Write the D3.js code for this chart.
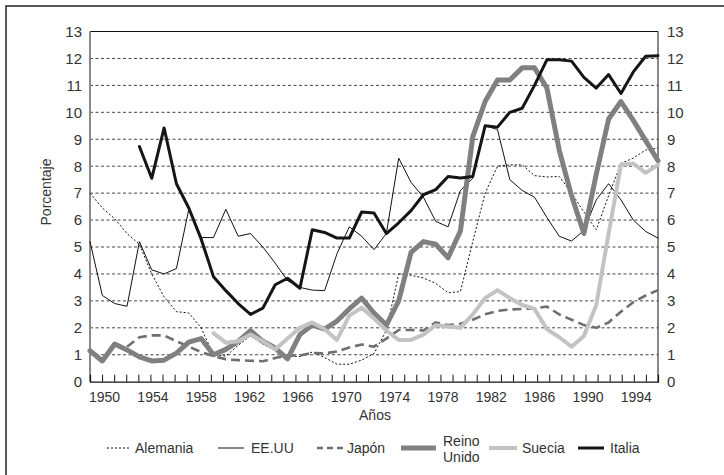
<!DOCTYPE html>
<html><head><meta charset="utf-8">
<script src="https://cdn.jsdelivr.net/npm/d3@7"></script>
<style>
html,body{margin:0;padding:0;background:#fff;}
svg text{font-family:"Liberation Sans",Arial,sans-serif;fill:#333;}
</style></head>
<body>
<svg id="chart" width="724" height="475"></svg>
<script>
// ---------- data ----------
const years = [1950,1951,1952,1953,1954,1955,1956,1957,1958,1959,1960,1961,1962,1963,1964,1965,1966,1967,1968,1969,1970,1971,1972,1973,1974,1975,1976,1977,1978,1979,1980,1981,1982,1983,1984,1985,1986,1987,1988,1989,1990,1991,1992,1993,1994,1995,1996];
const axisYears = [1949,1950,1951,1952,1953,1954,1955,1956,1957,1958,1959,1960,1961,1962,1963,1964,1965,1966,1967,1968,1969,1970,1971,1972,1973,1974,1975,1976,1977,1978,1979,1980,1981,1982,1983,1984,1985,1986,1987,1988,1989,1990,1991,1992,1993,1994,1995,1996];
const xTickLabels = [1950,1954,1958,1962,1966,1970,1974,1978,1982,1986,1990,1994];
const yTicks = [0,1,2,3,4,5,6,7,8,9,10,11,12,13];

const alemania = [7.0,6.45,6.05,5.5,5.1,4.0,3.15,2.6,2.55,2.0,1.0,0.95,1.35,1.7,1.4,1.15,0.95,0.93,1.1,0.9,0.65,0.65,0.8,1.05,1.9,4.0,3.95,3.85,3.65,3.3,3.35,5.2,7.0,8.0,8.05,8.05,7.65,7.6,7.62,7.0,6.3,5.64,6.9,8.1,8.3,8.6,8.67];
const eeuu = [5.2,3.2,2.9,2.8,5.2,4.15,4.0,4.2,6.4,5.35,5.35,6.4,5.4,5.5,5.0,4.4,3.75,3.5,3.4,3.38,4.75,5.75,5.4,4.9,5.5,8.3,7.4,6.85,5.95,5.75,7.1,7.55,9.5,9.36,7.5,7.1,6.85,6.1,5.4,5.22,5.62,6.75,7.35,6.75,6.0,5.58,5.33];
const japon = [null,null,null,1.3,1.65,1.72,1.72,1.5,1.3,1.1,0.95,0.83,0.8,0.78,0.76,0.88,0.98,0.97,1.07,1.05,1.12,1.27,1.38,1.3,1.6,1.92,1.92,1.9,2.2,2.1,2.15,2.3,2.5,2.63,2.68,2.7,2.72,2.79,2.5,2.3,2.1,2.0,2.2,2.6,2.95,3.2,3.4];
const reinoUnido = [1.15,0.77,1.4,1.18,0.92,0.77,0.8,1.06,1.47,1.6,1.0,1.2,1.5,1.9,1.5,1.25,0.85,1.75,2.1,1.95,2.25,2.7,3.1,2.55,2.1,3.0,4.8,5.2,5.1,4.6,5.6,9.1,10.4,11.2,11.2,11.65,11.65,10.9,8.6,6.9,5.5,7.7,9.75,10.4,9.7,8.95,8.2];
const suecia = [null,null,null,null,null,null,null,null,null,null,1.8,1.45,1.5,1.75,1.5,1.2,1.6,2.0,2.2,1.95,1.55,2.45,2.75,2.35,1.9,1.55,1.55,1.75,2.1,2.05,2.0,2.5,3.1,3.4,3.1,2.85,2.7,1.95,1.65,1.3,1.7,2.85,5.5,8.05,8.1,7.75,8.05];
const italia = [null,null,null,null,8.73,7.55,9.42,7.35,6.45,5.3,3.9,3.38,2.9,2.5,2.73,3.6,3.84,3.47,5.64,5.54,5.33,5.33,6.3,6.26,5.5,5.9,6.35,6.94,7.13,7.62,7.56,7.62,9.5,9.45,10.0,10.15,11.0,11.95,11.95,11.9,11.3,10.9,11.4,10.7,11.5,12.08,12.1];

const seriesNames = ["Alemania","EE.UU","Japón","Reino Unido","Suecia","Italia"];
const seriesValues = [alemania, eeuu, japon, reinoUnido, suecia, italia];

// ---------- styles / layout ----------
const styles = [
  {color:"#111", width:1, dash:"2,2"},
  {color:"#111", width:1, dash:null},
  {color:"#6f6f6f", width:2.6, dash:"9,5"},
  {color:"#808080", width:5, dash:null},
  {color:"#c3c3c3", width:4, dash:null},
  {color:"#151515", width:3, dash:null}
];
const legendLayout = [
  {x1:107,x2:131,tx:135},
  {x1:218,x2:244,tx:251},
  {x1:317,x2:343,tx:347},
  {x1:401,x2:436,tx:443},
  {x1:489,x2:517,tx:522},
  {x1:578,x2:604,tx:610}
];
const legendDash = ["2,2", null, "6,4", null, null, null];

const svg = d3.select("#chart");
const L = 90, R = 658, T = 31.5, B = 381.7;

const x = d3.scalePoint().domain(years).range([L, R]);
const xAxisScale = d3.scaleLinear().domain([axisYears[0], axisYears[axisYears.length-1]]).range([L, R]);
const y = d3.scaleLinear().domain([0, 13]).range([B, T]);

// outer frame
svg.append("path").attr("d","M6,480 L6,6 L730,6").attr("fill","none").attr("stroke","#222").attr("stroke-width",1.5);

// gridlines
svg.append("g").selectAll("line").data(yTicks.filter(v => v > 0 && v < 13)).join("line")
  .attr("x1", L).attr("x2", R).attr("y1", d => y(d)).attr("y2", d => y(d))
  .attr("stroke", "#444").attr("stroke-width", 1).attr("stroke-dasharray", "3,2.5");

// top & right borders
svg.append("line").attr("x1",L).attr("x2",R).attr("y1",y(13)).attr("y2",y(13)).attr("stroke","#111").attr("stroke-width",1);
svg.append("line").attr("x1",R).attr("x2",R).attr("y1",y(13)).attr("y2",B).attr("stroke","#111").attr("stroke-width",1);

// left axis labels
const yl = svg.append("g").attr("transform",`translate(${L},0)`)
  .call(d3.axisLeft(y).tickValues(yTicks).tickSize(0).tickPadding(8).tickFormat(d3.format("d")));
yl.select(".domain").remove();
yl.selectAll("text").style("font-size","15px").attr("fill","#333");

// right axis labels
const yr = svg.append("g").attr("transform",`translate(${R},0)`)
  .call(d3.axisRight(y).tickValues(yTicks).tickSize(0).tickPadding(9).tickFormat(d3.format("d")));
yr.select(".domain").remove();
yr.selectAll("text").style("font-size","15px").attr("fill","#333");

// left axis line (grey)
svg.append("line").attr("x1",L).attr("x2",L).attr("y1",y(13)).attr("y2",B).attr("stroke","#8a8a8a").attr("stroke-width",2);

// bottom axis
const xa = svg.append("g").attr("transform",`translate(0,${B})`)
  .call(d3.axisBottom(xAxisScale).tickValues(axisYears).tickSize(-7).tickPadding(10)
    .tickFormat(d => xTickLabels.includes(d) ? String(d) : ""));
xa.select(".domain").attr("stroke","#111").attr("stroke-width",1.2);
xa.selectAll(".tick line").attr("stroke","#111");
xa.selectAll("text").style("font-size","14px").attr("fill","#333").attr("dx","2");

// axis titles
svg.append("text").attr("x",375).attr("y",420).attr("text-anchor","middle").style("font-size","14px").text("Años");
svg.append("text").attr("transform","translate(51,192) rotate(-90)").attr("text-anchor","middle").style("font-size","14px").text("Porcentaje");

// lines
const lineGen = d3.line().defined(d => d.v != null).x(d => x(d.year)).y(d => y(d.v));
seriesValues.forEach((vals, i) => {
  const pts = years.map((yr, j) => ({year: yr, v: vals[j]}));
  const s = styles[i];
  svg.append("path").datum(pts).attr("d", lineGen)
    .attr("fill","none").attr("stroke", s.color).attr("stroke-width", s.width)
    .attr("stroke-dasharray", s.dash).attr("stroke-linejoin","round").attr("stroke-linecap", s.dash ? "butt" : "round");
});

// legend
const lg = svg.append("g");
seriesNames.forEach((name, i) => {
  const s = styles[i], p = legendLayout[i], ly = 448;
  lg.append("line").attr("x1",p.x1).attr("x2",p.x2).attr("y1",ly).attr("y2",ly)
    .attr("stroke", s.color).attr("stroke-width", s.width).attr("stroke-dasharray", legendDash[i]);
  const parts = name === "Reino Unido" ? ["Reino","Unido"] : [name];
  parts.forEach((t, k) => {
    lg.append("text").attr("x", p.tx).attr("y", parts.length > 1 ? ly - 2 + k*16 : ly + 5)
      .style("font-size","14px").text(t);
  });
});
</script>
</body></html>
